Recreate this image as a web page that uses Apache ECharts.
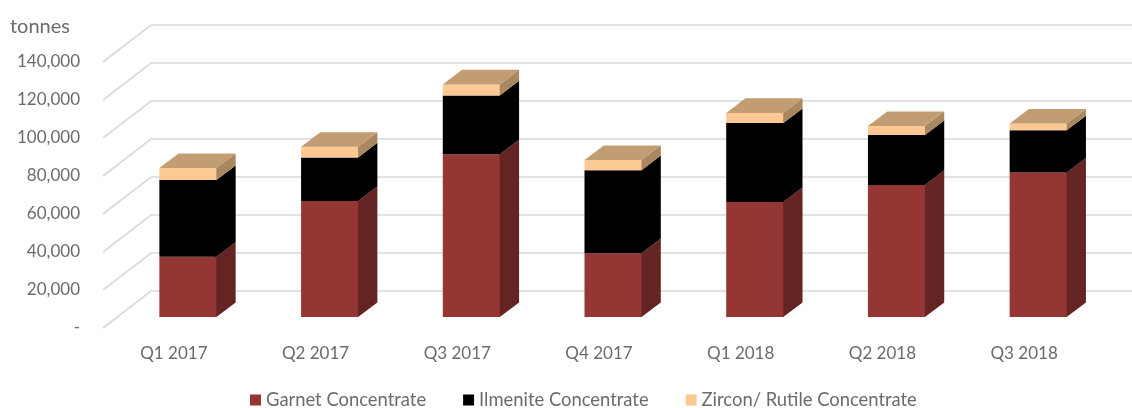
<!DOCTYPE html>
<html>
<head>
<meta charset="utf-8">
<title>Concentrate production</title>
<script src="https://cdn.jsdelivr.net/npm/echarts@6/dist/echarts.min.js"></script>
<style>
  html, body { margin: 0; padding: 0; background: #fff; }
  #main { width: 1132px; height: 408px; }
</style>
</head>
<body>
<div id="main"></div>
<script>
// values, tonnes per quarter
var quarters = ['Q1 2017', 'Q2 2017', 'Q3 2017', 'Q4 2017', 'Q1 2018', 'Q2 2018', 'Q3 2018'];
var garnet = [31700, 61000, 85600, 33600, 60500, 69500, 76000];
var ilmenite = [40400, 23000, 31000, 43700, 41600, 26300, 22300];
var zircon = [6300, 5600, 5800, 5300, 5300, 4700, 3500];
var valueTicks = [0, 20000, 40000, 60000, 80000, 100000, 120000, 140000];

// fake 3D: how far the back wall and the bars sit behind the axis plane
var wallDx = 48, wallDy = -37;
var barDx = 14, barDy = -11;
var depthDx = 19.3, depthDy = -14.6;
var barWidth = 57;

var myChart = echarts.init(document.getElementById('main'));

function wallItem(params, api) {
    var left = params.coordSys.x;
    var y = api.coord([0, api.value(1)])[1];
    return {
        type: 'polyline',
        shape: { points: [[left, y], [left + wallDx, y + wallDy], [api.getWidth(), y + wallDy]] },
        style: { fill: null, stroke: '#d9d9d9', lineWidth: 1.6 }
    };
}

function barRenderer(front, side, top) {
    return function (params, api) {
        var low = api.coord([api.value(0), api.value(1)]);
        var high = api.coord([api.value(0), api.value(2)]);
        var x0 = low[0] + barDx - barWidth / 2;
        var x1 = x0 + barWidth;
        var y0 = low[1] + barDy;
        var y1 = high[1] + barDy;
        var children = [{
            // starts 1px under the front face so no white seam shows
            type: 'polygon',
            shape: { points: [[x1 - 1, y0], [x1, y0], [x1 + depthDx, y0 + depthDy], [x1 + depthDx, y1 + depthDy], [x1, y1], [x1 - 1, y1]] },
            style: { fill: side }
        }, {
            type: 'rect',
            shape: { x: x0, y: y1, width: barWidth, height: y0 - y1 },
            style: { fill: front }
        }];
        if (top) {
            children.push({
                type: 'polygon',
                shape: { points: [[x0, y1], [x1, y1], [x1 + depthDx, y1 + depthDy], [x0 + depthDx, y1 + depthDy]] },
                style: { fill: top }
            });
        }
        return { type: 'group', children: children };
    };
}

// turn the stacked values into [index, from, to] rows
function stackRows(values, below) {
    return values.map(function (v, i) {
        var base = 0;
        below.forEach(function (arr) { base += arr[i]; });
        return [i, base, base + v];
    });
}

var textColor = '#6b6b6b';
var option = {
    animation: false,
    title: {
        text: 'tonnes',
        left: 5,
        top: 12,
        textStyle: { color: textColor, fontFamily: 'Lato', fontSize: 20, fontWeight: 'normal' }
    },
    legend: {
        left: 245,
        top: 386,
        icon: 'rect',
        itemWidth: 11,
        itemHeight: 11,
        itemGap: 37,
        data: ['Garnet Concentrate', 'Ilmenite Concentrate', 'Zircon/ Rutile Concentrate'],
        textStyle: { color: textColor, fontFamily: 'Lato', fontSize: 18.4 }
    },
    grid: { left: 103, top: 62, width: 992, height: 266 },
    xAxis: {
        type: 'category',
        data: quarters,
        axisLine: { show: false },
        axisTick: { show: false },
        axisLabel: { color: textColor, fontFamily: 'Lato', fontSize: 17, margin: 17 }
    },
    yAxis: {
        type: 'value',
        min: 0,
        max: 140000,
        interval: 20000,
        splitLine: { show: false },
        axisLine: { show: false },
        axisTick: { show: false },
        axisLabel: {
            color: textColor,
            fontFamily: 'Lato',
            fontSize: 17,
            margin: 23,
            padding: [2, 0, 0, 0],
            formatter: function (v) { return v === 0 ? '-' : v.toLocaleString('en-US'); }
        }
    },
    series: [{
        type: 'custom',
        silent: true,
        renderItem: wallItem,
        encode: { x: 0, y: 1 },
        data: valueTicks.map(function (v) { return [0, v]; }),
        z: 1
    }, {
        name: 'Garnet Concentrate',
        type: 'custom',
        renderItem: barRenderer('#943634', '#632423'),
        itemStyle: { color: '#943634' },
        encode: { x: 0, y: [1, 2] },
        data: stackRows(garnet, []),
        z: 2
    }, {
        name: 'Ilmenite Concentrate',
        type: 'custom',
        renderItem: barRenderer('#000000', '#000000'),
        itemStyle: { color: '#000000' },
        encode: { x: 0, y: [1, 2] },
        data: stackRows(ilmenite, [garnet]),
        z: 2
    }, {
        name: 'Zircon/ Rutile Concentrate',
        type: 'custom',
        renderItem: barRenderer('#fcc995', '#a98760', '#c29d74'),
        itemStyle: { color: '#fcc995' },
        encode: { x: 0, y: [1, 2] },
        data: stackRows(zircon, [garnet, ilmenite]),
        z: 2
    }]
};
option && myChart.setOption(option);
</script>
</body>
</html>
